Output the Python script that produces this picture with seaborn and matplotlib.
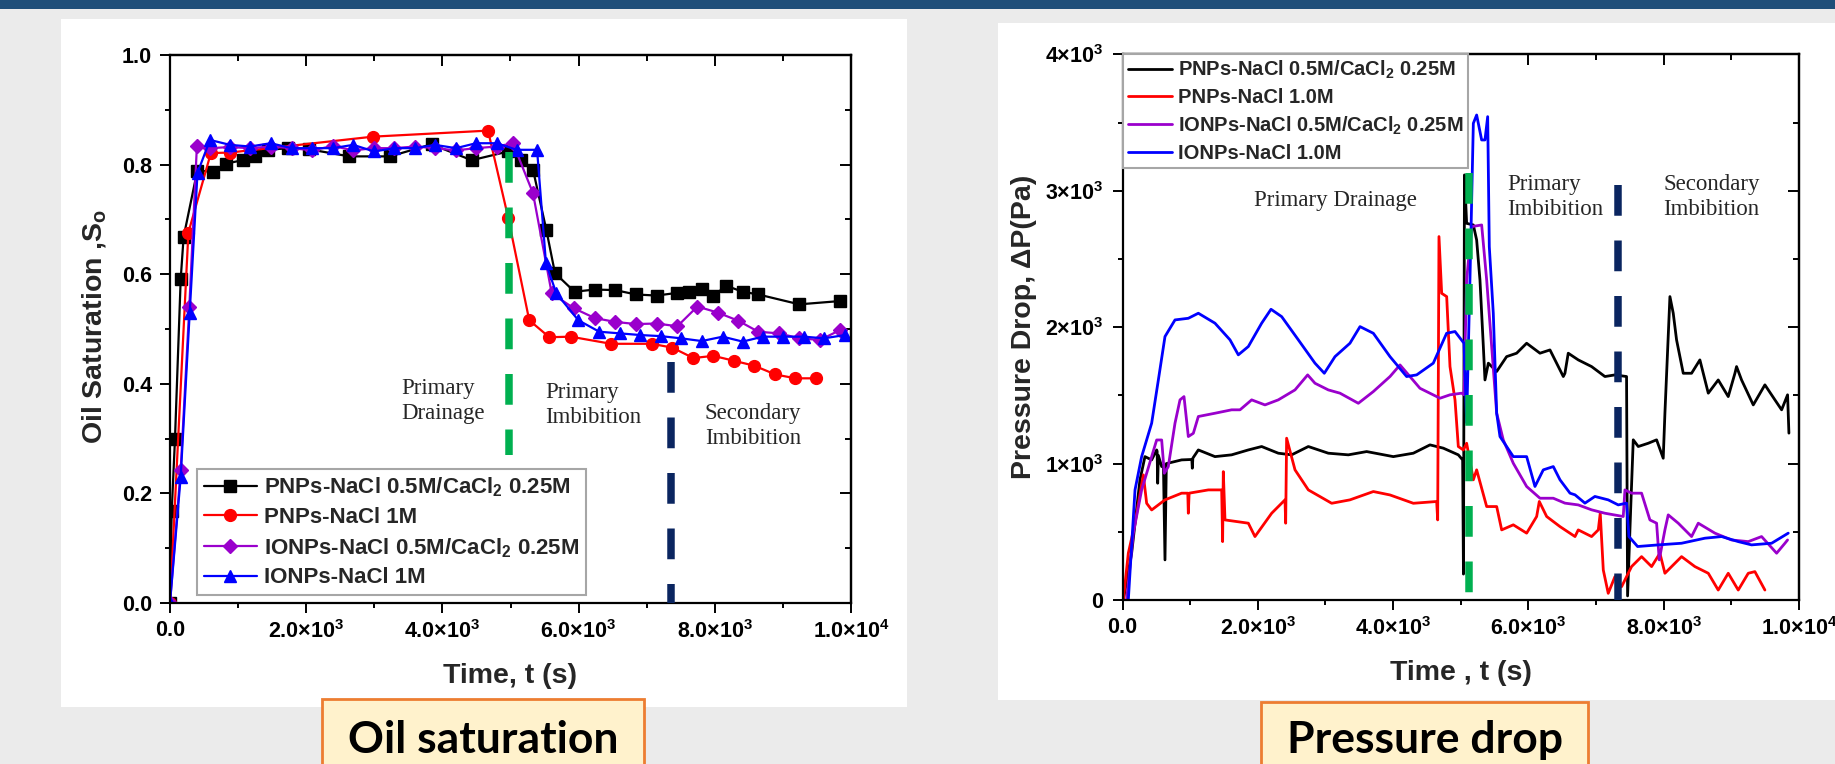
import numpy as np
import pandas as pd
import matplotlib
matplotlib.use("Agg")
import matplotlib.pyplot as plt
from matplotlib.patches import Rectangle
from matplotlib.ticker import MultipleLocator, FuncFormatter
import seaborn as sns

# ---------------- data: oil saturation (left) ----------------
series_names_L = ["PNPs-NaCl 0.5M/CaCl$_2$ 0.25M", "PNPs-NaCl 1M",
                  "IONPs-NaCl 0.5M/CaCl$_2$ 0.25M", "IONPs-NaCl 1M"]

so_black_t = [0, 25, 73, 157, 200, 401, 636, 827, 1067, 1248, 1444, 1740, 2040, 2633, 3231, 3840,
              4430, 4968, 5147, 5330, 5526, 5653, 5940, 6236, 6535, 6843, 7146, 7450, 7626, 7807,
              7979, 8164, 8410, 8639, 9241, 9838]
so_black_v = [0, 0.167, 0.299, 0.591, 0.668, 0.789, 0.787, 0.802, 0.808, 0.816, 0.827, 0.830, 0.828,
              0.815, 0.815, 0.837, 0.808, 0.824, 0.808, 0.791, 0.681, 0.602, 0.568, 0.572, 0.571,
              0.563, 0.561, 0.566, 0.568, 0.573, 0.560, 0.579, 0.568, 0.563, 0.545, 0.551]

so_red_t = [0, 270, 600, 880, 2980, 4670, 4968, 5275, 5570, 5884, 6476, 7073, 7376, 7685, 7979,
            8282, 8580, 8890, 9185, 9484]
so_red_v = [0, 0.676, 0.821, 0.822, 0.851, 0.862, 0.702, 0.516, 0.485, 0.486, 0.473, 0.473, 0.466,
            0.447, 0.451, 0.442, 0.433, 0.417, 0.410, 0.410]

so_purple_t = [0, 157, 284, 395, 590, 880, 1175, 1478, 1786, 2090, 2388, 2692, 2996, 3294, 3598,
               3891, 4200, 4493, 4797, 5036, 5330, 5605, 5928, 6236, 6535, 6843, 7146, 7450, 7744,
               8043, 8346, 8639, 8943, 9241, 9545, 9838]
so_purple_v = [0, 0.243, 0.541, 0.834, 0.830, 0.832, 0.830, 0.833, 0.830, 0.826, 0.834, 0.826, 0.830,
               0.830, 0.833, 0.830, 0.826, 0.830, 0.833, 0.839, 0.748, 0.565, 0.538, 0.520, 0.513,
               0.509, 0.510, 0.505, 0.541, 0.530, 0.515, 0.495, 0.492, 0.483, 0.480, 0.498]

so_blue_t = [0, 157, 289, 404, 587, 881, 1175, 1478, 1786, 2090, 2388, 2692, 2996, 3294, 3598, 3891,
             4200, 4493, 4797, 5091, 5390, 5521, 5673, 5996, 6304, 6608, 6902, 7205, 7504, 7808,
             8116, 8410, 8703, 9006, 9310, 9604, 9912]
so_blue_v = [0, 0.230, 0.529, 0.785, 0.845, 0.836, 0.833, 0.839, 0.830, 0.830, 0.830, 0.836, 0.824,
             0.830, 0.830, 0.836, 0.830, 0.839, 0.839, 0.827, 0.827, 0.620, 0.565, 0.516, 0.495,
             0.492, 0.489, 0.487, 0.483, 0.478, 0.486, 0.477, 0.486, 0.486, 0.486, 0.483, 0.489]

# phase boundaries (left): time, top, bottom
bnd_L_green = ([4980, 4980], [0.823, 0.27])
bnd_L_navy = ([7350, 7350], [0.44, 0.0])
labels_L = [("Primary\nDrainage", 3392, 0.369), ("Primary\nImbibition", 5507, 0.361),
            ("Secondary\nImbibition", 7856, 0.323)]

# ---------------- data: pressure drop (right) ----------------
series_names_R = ["PNPs-NaCl 0.5M/CaCl$_2$ 0.25M", "PNPs-NaCl 1.0M",
                  "IONPs-NaCl 0.5M/CaCl$_2$ 0.25M", "IONPs-NaCl 1.0M"]

dp_black = [(12, 0), (135, 343), (258, 880), (332, 1051), (431, 1027), (505, 1100), (512, 1090),
            (520, 856), (530, 1060), (579, 978), (605, 990), (628, 294), (648, 1000), (667, 1002),
            (874, 1027), (1025, 1030), (1032, 966), (1040, 1040), (1121, 1100), (1367, 1051),
            (1613, 1064), (1860, 1100), (2057, 1125), (2303, 1076), (2500, 1064), (2747, 1125),
            (3042, 1076), (3338, 1064), (3609, 1088), (4003, 1051), (4299, 1076), (4545, 1137),
            (4742, 1113), (4964, 1064), (5028, 1027), (5040, 190), (5055, 3116), (5087, 2761),
            (5186, 2749), (5235, 2639), (5284, 2346), (5334, 1858), (5358, 1613), (5408, 1736),
            (5531, 1675), (5678, 1784), (5826, 1809), (5974, 1882), (6171, 1809), (6319, 1833),
            (6516, 1638), (6540, 1662), (6589, 1809), (6737, 1760), (6934, 1711), (7131, 1638),
            (7279, 1650), (7451, 1638), (7466, 30), (7515, 710), (7550, 1174), (7624, 1125),
            (7772, 1149), (7895, 1174), (7993, 1039), (8018, 1369), (8092, 2224), (8141, 2102),
            (8190, 1907), (8289, 1662), (8412, 1662), (8535, 1760), (8659, 1516), (8806, 1613),
            (8954, 1491), (9053, 1662), (9077, 1711), (9151, 1613), (9324, 1430), (9496, 1577),
            (9644, 1467), (9743, 1394), (9831, 1504), (9851, 1223)]
dp_red = [(12, 0), (86, 343), (185, 563), (308, 917), (357, 709), (431, 660), (628, 734), (874, 783),
          (965, 783), (973, 636), (985, 783), (1269, 807), (1466, 807), (1480, 428), (1490, 941),
          (1515, 587), (1860, 563), (1958, 465), (2205, 636), (2402, 734), (2412, 563), (2426, 1186),
          (2550, 954), (2747, 807), (3092, 709), (3362, 734), (3708, 795), (3954, 770), (4299, 709),
          (4644, 722), (4659, 587), (4678, 2664), (4718, 2248), (4792, 2224), (4841, 1711),
          (4915, 1467), (4964, 1125), (5038, 1100), (5087, 1149), (5186, 881), (5235, 954),
          (5383, 685), (5531, 685), (5605, 514), (5777, 551), (5974, 490), (6122, 612), (6161, 722),
          (6270, 612), (6467, 538), (6689, 465), (6737, 514), (6934, 465), (7033, 514), (7062, 636),
          (7107, 220), (7180, 49), (7279, 171), (7378, 98), (7525, 245), (7673, 318), (7821, 245),
          (7944, 343), (8018, 196), (8264, 318), (8461, 245), (8659, 196), (8806, 73), (8954, 196),
          (9102, 73), (9250, 196), (9348, 208), (9496, 73)]
dp_purple = [(61, 0), (160, 490), (283, 807), (431, 1051), (505, 1173), (579, 1173), (618, 929),
             (677, 978), (776, 1296), (850, 1467), (909, 1491), (973, 1198), (1047, 1222),
             (1121, 1345), (1367, 1369), (1613, 1394), (1737, 1394), (1909, 1467), (2106, 1430),
             (2303, 1467), (2550, 1540), (2737, 1650), (2845, 1589), (3042, 1540), (3215, 1516),
             (3486, 1442), (3708, 1528), (3954, 1638), (4102, 1723), (4249, 1638), (4397, 1552),
             (4693, 1479), (4841, 1504), (5013, 1516), (5048, 1504), (5087, 2346), (5161, 2737),
             (5309, 2749), (5383, 2346), (5457, 1858), (5531, 1369), (5629, 1173), (5777, 1002),
             (5974, 832), (6171, 746), (6368, 746), (6540, 710), (6737, 697), (6934, 661),
             (7131, 636), (7402, 612), (7427, 807), (7525, 783), (7673, 783), (7796, 587),
             (7895, 563), (7934, 294), (8018, 514), (8067, 624), (8215, 563), (8412, 465),
             (8511, 563), (8757, 490), (9003, 440), (9250, 428), (9447, 465), (9669, 343),
             (9792, 416), (9831, 440)]
dp_blue = [(86, 0), (185, 807), (283, 1051), (431, 1296), (530, 1613), (628, 1931), (776, 2053),
           (973, 2065), (1121, 2102), (1367, 2029), (1589, 1907), (1712, 1797), (1860, 1858),
           (2057, 2029), (2195, 2131), (2353, 2077), (2599, 1907), (2845, 1736), (2983, 1662),
           (3141, 1784), (3362, 1882), (3511, 2004), (3708, 1955), (3954, 1784), (4200, 1638),
           (4348, 1650), (4594, 1736), (4791, 1955), (4915, 1968), (5048, 1882), (5087, 1300),
           (5136, 2346), (5186, 3494), (5235, 3555), (5309, 3372), (5358, 3372), (5398, 3543),
           (5422, 2590), (5481, 2102), (5531, 1369), (5580, 1198), (5678, 1125), (5777, 1051),
           (5974, 1051), (6097, 832), (6220, 954), (6368, 978), (6467, 881), (6615, 783),
           (6689, 771), (6836, 710), (6983, 759), (7180, 734), (7328, 697), (7451, 710),
           (7486, 465), (7614, 392), (7920, 404), (8264, 416), (8609, 453), (8856, 465),
           (9102, 428), (9299, 404), (9595, 416), (9841, 490)]

bnd_R_green = ([5116, 5116], [3130, 0])
bnd_R_navy = ([7320, 7320], [3040, 0])
labels_R = [("Primary Drainage", 1944, 2932), ("Primary\nImbibition", 5684, 2954),
            ("Secondary\nImbibition", 7990, 2954)]

colors = ["#000000", "#FF0000", "#9A00CC", "#0000FF"]
markers = ["s", "o", "D", "^"]
msizes = [8, 8.5, 7, 9]
GREEN, NAVY = "#00B050", "#0A2560"

# ---------------- style ----------------
sns.set_theme(style="ticks")
plt.rcParams["font.family"] = ["Liberation Sans", "DejaVu Sans"]
plt.rcParams.update({
    "font.weight": "bold", "axes.labelweight": "bold",
    "mathtext.fontset": "custom", "mathtext.rm": "Liberation Sans:bold",
    "mathtext.it": "Liberation Sans:bold", "mathtext.bf": "Liberation Sans:bold",
    "mathtext.sf": "Liberation Sans:bold", "mathtext.default": "rm",
    "axes.edgecolor": "black", "xtick.color": "black", "ytick.color": "black",
})

W, H = 1835, 764
fig = plt.figure(figsize=(W / 100, H / 100), dpi=100, facecolor="#EBEBEB")


def fx(px):
    return px / W


def fy(py):
    return 1 - py / H


fig.patches.append(Rectangle((0, fy(9)), 1, 9 / H, transform=fig.transFigure,
                             facecolor="#1F4E79", edgecolor="none", zorder=-5))
fig.patches.append(Rectangle((fx(61), fy(707)), fx(846), (707 - 19) / H, transform=fig.transFigure,
                             facecolor="white", edgecolor="none", zorder=-5))
fig.patches.append(Rectangle((fx(998), fy(700)), 1 - fx(998), (700 - 23) / H, transform=fig.transFigure,
                             facecolor="white", edgecolor="none", zorder=-5))

axL = fig.add_axes([fx(170), fy(603), fx(681), 548 / H])
axR = fig.add_axes([fx(1122.5), fy(600), fx(676.5), 545.7 / H])
for ax in (axL, axR):
    ax.set_facecolor("none")


def sci_fmt(v, pos):
    if v < 1e-9:
        return "0.0" if abs(v) < 1e-9 else ""
    e = int(np.floor(np.log10(v) + 1e-9))
    m = v / 10 ** e
    return rf"${m:.1f}{{\times}}10^{{{e}}}$"


def k_fmt(v, pos):
    if v < 1e-9:
        return "0" if abs(v) < 1e-9 else ""
    return rf"${int(round(v / 1000))}{{\times}}10^{{3}}$"


def dec_fmt(v, pos):
    return f"{v:.1f}" if v > -1e-9 else ""


def style_axes(ax, xmaj, xmin, ymaj, ymin, xfmt, yfmt, ypad):
    for s in ax.spines.values():
        s.set_linewidth(1.6)
    ax.xaxis.set_major_locator(MultipleLocator(xmaj))
    ax.xaxis.set_minor_locator(MultipleLocator(xmin))
    ax.yaxis.set_major_locator(MultipleLocator(ymaj))
    ax.yaxis.set_minor_locator(MultipleLocator(ymin))
    ax.xaxis.set_major_formatter(FuncFormatter(xfmt))
    ax.yaxis.set_major_formatter(FuncFormatter(yfmt))
    ax.tick_params(which="both", direction="out", top=False, right=False, width=1.4)
    ax.tick_params(which="major", length=7, labelsize=15.5)
    ax.tick_params(which="minor", length=3.5)
    ax.tick_params(axis="x", which="major", pad=5)
    ax.tick_params(axis="y", which="major", pad=ypad)
    sx = ax.secondary_xaxis("top")
    sx.xaxis.set_major_locator(MultipleLocator(xmaj))
    sx.xaxis.set_minor_locator(MultipleLocator(xmin))
    sx.tick_params(which="both", direction="in", labeltop=False, width=1.4)
    sx.tick_params(which="major", length=8)
    sx.tick_params(which="minor", length=4)
    sx.spines["top"].set_linewidth(1.6)
    sy = ax.secondary_yaxis("right")
    sy.yaxis.set_major_locator(MultipleLocator(ymaj))
    sy.yaxis.set_minor_locator(MultipleLocator(ymin))
    sy.tick_params(which="both", direction="in", labelright=False, width=1.4)
    sy.tick_params(which="major", length=8)
    sy.tick_params(which="minor", length=4)
    sy.spines["right"].set_linewidth(1.6)


# ---------------- left panel ----------------
left_series = [(so_black_t, so_black_v), (so_red_t, so_red_v),
               (so_purple_t, so_purple_v), (so_blue_t, so_blue_v)]
for (t, v), name, c, m, ms in zip(left_series, series_names_L, colors, markers, msizes):
    sns.lineplot(x=t, y=v, ax=axL, color=c, marker=m, markersize=ms, markeredgecolor=c,
                 markeredgewidth=1, linewidth=1.6, label=name, estimator=None, sort=False)

axL.plot(*bnd_L_green, color=GREEN, linewidth=5.4, linestyle=(0, (4.1, 3.3)), zorder=4)
axL.plot(*bnd_L_navy, color=NAVY, linewidth=5.4, linestyle=(0, (4.1, 3.3)), zorder=4)
for txt, tx, ty in labels_L:
    axL.text(tx, ty, txt, family="Liberation Serif", fontweight="normal", fontsize=16.5,
             ha="left", va="center", linespacing=1.25)

axL.set_xlim(0, 10000)
axL.set_ylim(0, 1.0)
style_axes(axL, 2000, 1000, 0.2, 0.1, sci_fmt, dec_fmt, 6)
axL.set_xlabel("Time, t (s)", fontsize=20.5, fontweight="bold")
axL.set_ylabel("Oil Saturation ,S$_o$", fontsize=20.5, fontweight="bold")
axL.xaxis.label.set_va("center")
axL.yaxis.label.set_va("center")
axL.xaxis.set_label_coords(0.499, -0.133)
axL.yaxis.set_label_coords(-0.1116, 0.504)

legL = axL.legend(loc="lower left", bbox_to_anchor=(fx(197), fy(595)), bbox_transform=fig.transFigure,
                  prop={"weight": "bold", "size": 16}, frameon=True, fancybox=False,
                  edgecolor="#A6A6A6", framealpha=1, facecolor="white", borderaxespad=0,
                  borderpad=0.3, labelspacing=0.35, handlelength=2.4, handletextpad=0.3)
legL.get_frame().set_linewidth(1.5)

# ---------------- right panel ----------------
right_series = [dp_black, dp_red, dp_purple, dp_blue]
for pts, name, c in zip(right_series, series_names_R, colors):
    t = [p[0] for p in pts]
    v = [p[1] for p in pts]
    sns.lineplot(x=t, y=v, ax=axR, color=c, linewidth=2.0, label=name, estimator=None, sort=False)

axR.plot(*bnd_R_green, color=GREEN, linewidth=5.4, linestyle=(0, (4.1, 3.3)), zorder=4)
axR.plot(*bnd_R_navy, color=NAVY, linewidth=5.4, linestyle=(0, (4.1, 3.3)), zorder=4)
for txt, tx, ty in labels_R:
    axR.text(tx, ty, txt, family="Liberation Serif", fontweight="normal", fontsize=16.5,
             ha="left", va="center", linespacing=1.25)

axR.set_xlim(0, 10000)
axR.set_ylim(0, 4000)
style_axes(axR, 2000, 1000, 1000, 500, sci_fmt, k_fmt, 7)
axR.set_xlabel("Time , t (s)", fontsize=20.5, fontweight="bold")
axR.set_ylabel("Pressure Drop, ΔP(Pa)", fontsize=20.5, fontweight="bold")
axR.xaxis.label.set_va("center")
axR.yaxis.label.set_va("center")
axR.xaxis.set_label_coords(0.4998, -0.1338)
axR.yaxis.set_label_coords(-0.1456, 0.500)

legR = axR.legend(loc="upper left", bbox_to_anchor=(fx(1122.5), fy(54)), bbox_transform=fig.transFigure,
                  prop={"weight": "bold", "size": 14.5}, frameon=True, fancybox=False,
                  edgecolor="#A6A6A6", framealpha=1, facecolor="white", borderaxespad=0,
                  borderpad=0.25, labelspacing=0.35, handlelength=2.2, handletextpad=0.3)
legR.get_frame().set_linewidth(1.5)

# ---------------- caption boxes ----------------
for x0, x1, top, txt in [(322, 644, 699, "Oil saturation"), (1261, 1588, 701.7, "Pressure drop")]:
    fig.patches.append(Rectangle((fx(x0), -0.02), fx(x1 - x0), fy(top) + 0.02, transform=fig.transFigure,
                                 facecolor="#FFF2CC", edgecolor="#ED7D31", linewidth=2, zorder=1))
    fig.text(fx((x0 + x1) / 2), fy(753), txt, family="Lato", fontweight="bold", fontsize=32,
             ha="center", va="baseline", color="black", zorder=2)

fig.savefig("out.png", dpi=100, facecolor=fig.get_facecolor())
